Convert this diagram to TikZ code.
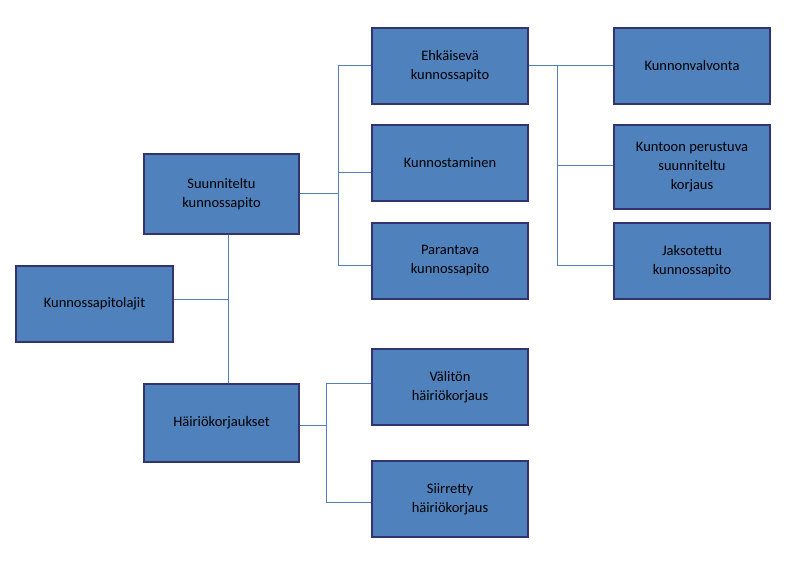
\documentclass[tikz,border=0pt]{standalone}
\usepackage{fontspec}
\setmainfont{Carlito}
\begin{document}
\begin{tikzpicture}[x=1pt,y=-1pt,
 bx/.style={draw=black!60!blue!60!gray,line width=2.5pt,fill={rgb,255:red,79;green,129;blue,189},align=center,inner sep=0pt,font=\fontsize{14.5}{19}\selectfont},
 ln/.style={draw={rgb,255:red,79;green,129;blue,189},line width=0.8pt}]
\useasboundingbox (0,0) rectangle (802,562);
\def\B(#1,#2,#3,#4,#5,#6){\node[bx,minimum width=#4-#2,minimum height=#5-#3] (#1) at ({(#2+#4)/2},{(#3+#5)/2}) {#6};}
\B(lajit,16,266,173,342,Kunnossapitolajit)
\B(suun,144,154,299,234,Suunniteltu\\kunnossapito)
\B(hair,144,384,299,462,Häiriökorjaukset)
\B(ehk,372,28,528,104,Ehkäisevä\\kunnossapito)
\B(kunn,372,125,528,201,Kunnostaminen)
\B(par,372,223,528,299,Parantava\\kunnossapito)
\B(val,372,349,528,425,Välitön\\häiriökorjaus)
\B(sii,372,461,528,537,Siirretty\\häiriökorjaus)
\B(kv,614,28,770,104,Kunnonvalvonta)
\B(kp,614,125,770,209,Kuntoon perustuva\\suunniteltu\\korjaus)
\B(jak,614,223,770,299,Jaksotettu\\kunnossapito)
\coordinate (a) at (228,299);
\draw[ln] (lajit.east |- a) -- (a);
\draw[ln] (suun.south -| a) -- (hair.north -| a);
\coordinate (b) at (338,193);
\draw[ln] (suun.east |- b) -- (b);
\draw[ln] (338,65) -- (338,265);
\draw[ln] (338,65) -- (ehk.west |- 0,65);
\draw[ln] (338,172) -- (kunn.west |- 0,172);
\draw[ln] (338,265) -- (par.west |- 0,265);
\draw[ln] (ehk.east |- 0,65) -- (kv.west |- 0,65);
\draw[ln] (557,65) -- (557,265);
\draw[ln] (557,165) -- (kp.west |- 0,165);
\draw[ln] (557,265) -- (jak.west |- 0,265);
\draw[ln] (hair.east |- 0,425) -- (326,425);
\draw[ln] (326,383) -- (326,502);
\draw[ln] (326,383) -- (val.west |- 0,383);
\draw[ln] (326,502) -- (sii.west |- 0,502);
\end{tikzpicture}
\end{document}
